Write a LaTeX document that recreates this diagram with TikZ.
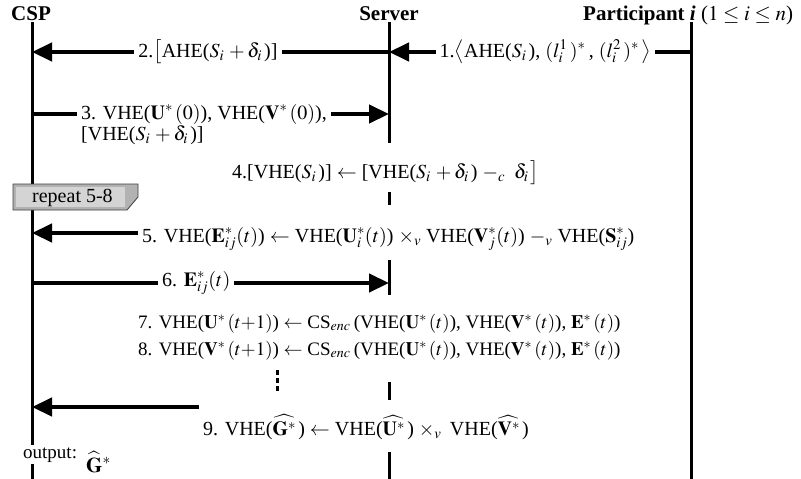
\documentclass[tikz,border=0pt]{standalone}
\usepackage{mathptmx}
\usepackage{fontspec}
\setmainfont{Liberation Serif}
\usetikzlibrary{arrows.meta}
\tikzset{
  life/.style={line width=3pt},
  msg/.style={line width=4.5pt,-{Triangle[length=20pt,width=18pt]}},
  lbl/.style={fill=white,inner sep=4pt,font=\fontsize{20}{27}\selectfont},
  ttl/.style={font=\fontsize{21}{25}\selectfont\bfseries,inner sep=0pt},
}
\begin{document}
\begin{tikzpicture}[x=1pt,y=-1pt]
\useasboundingbox (0,0) rectangle (801,479);
% titles
\node[ttl,anchor=base] (csp) at (31,20) {CSP};
\node[ttl,anchor=base] (srv) at (389,20) {Server};
\node[ttl,anchor=base west] (par) at (583,20) {Participant \textit{i} \mdseries($1\le i\le n$)};
% lifelines
\coordinate (cT) at (32,22); \coordinate (cB) at (32,479);
\coordinate (pT) at (691,22); \coordinate (pB) at (691,479);
\draw[life] (cT) -- (cB);
\draw[life] (pT) -- (pB);
% repeat box
\draw[draw=black!75,fill=black!30,line width=0.8pt] (13,184) -- (138,184) -- (138,197) -- (127,210) -- (13,210) -- cycle;
\fill[black!17] (16,187) rectangle (125,207);
\node[font=\fontsize{20}{22}\selectfont,anchor=base west,inner sep=0pt] (rep) at (32,202) {repeat 5-8};
% 1
\coordinate (p1) at (691,52); \coordinate (s1) at (389,52);
\draw[msg] (p1) -- node[lbl,pos=0.483]{1.$\big\langle$AHE($S_i\,$), $(l_i^1\,)^*$\,, $(l_i^2\,)^*\,\big\rangle$} (s1);
% 2
\coordinate (s2) at (389,52); \coordinate (c2) at (32,52);
\draw[msg] (s2) -- node[lbl,pos=0.507]{2.$\big[$AHE($S_i\,+\delta_i\,$)]} (c2);
% 3
\coordinate (c3) at (32,114); \coordinate (s3) at (389,114);
\draw[msg] (c3) -- (s3);
\node[lbl,align=left,anchor=base west,font=\fontsize{20}{19}\selectfont] (l3) at (77,140) {3. VHE($\mathbf{U}^*\,(0)$), VHE($\mathbf{V}^*\,(0)$),\\{}[VHE($S_i\,+\delta_i\,$)]};
% 4
\node[lbl,anchor=base west] (t4) at (228,178) {4.[VHE($S_i\,$)] $\leftarrow$ [VHE($S_i\,+\delta_i\,$) $-_c\;\; \delta_i\,\big]$};
% 5
\coordinate (s5) at (389,233); \coordinate (c5) at (32,233);
\draw[msg] (s5) -- (c5);
\node[lbl,anchor=base west] (l5) at (138,242) {5. VHE($\mathbf{E}^*_{ij}(t)$) $\leftarrow$ VHE($\mathbf{U}^*_i(t)$) $\times_v$ VHE($\mathbf{V}^*_j(t)$) $-_v$ VHE($\mathbf{S}^*_{ij}$)};
% 6
\coordinate (c6) at (32,283); \coordinate (s6) at (389,283);
\draw[msg] (c6) -- node[lbl,pos=0.46]{6. $\mathbf{E}^*_{ij}(t)$} (s6);
% 7, 8
\node[lbl,anchor=base west,align=left,font=\fontsize{19}{27}\selectfont] (t78) at (134,355) {7. VHE($\mathbf{U}^*\,(t{+}1)$) $\leftarrow$ CS$_{enc}$\,(VHE($\mathbf{U}^*\,(t)$), VHE($\mathbf{V}^*\,(t)$), $\mathbf{E}^*\,(t)$)\\8. VHE($\mathbf{V}^*\,(t{+}1)$) $\leftarrow$ CS$_{enc}$\,(VHE($\mathbf{U}^*\,(t)$), VHE($\mathbf{V}^*\,(t)$), $\mathbf{E}^*\,(t)$)};
% dots
\coordinate (d1) at (277,370); \coordinate (d2) at (277,393);
\draw[line width=3pt,dash pattern=on 5pt off 3pt] (d1) -- (d2);
% 9
\coordinate (a9) at (199,407); \coordinate (c9) at (32,407);
\draw[msg] (a9) -- (c9);
\node[lbl,anchor=base west] (l9) at (199,435) {9. VHE($\widehat{\mathbf{G}^*}\,$) $\leftarrow$ VHE($\widehat{\mathbf{U}^*}\,$) $\times_v$\, VHE($\widehat{\mathbf{V}^*}\,$)};
% output
\node[fill=white,inner sep=2pt,anchor=base west,font=\fontsize{19}{20}\selectfont] (out) at (21,458) {output:};
\node[anchor=base west,font=\fontsize{21}{24}\selectfont,inner sep=0pt] (g) at (86,472) {$\widehat{\mathbf{G}}^{*}$};
% server lifeline segments
\foreach \a/\b in {22/143,192/205,260/295,382/400,452/479}
  \draw[life] (389,\a) -- (389,\b);
\end{tikzpicture}
\end{document}
